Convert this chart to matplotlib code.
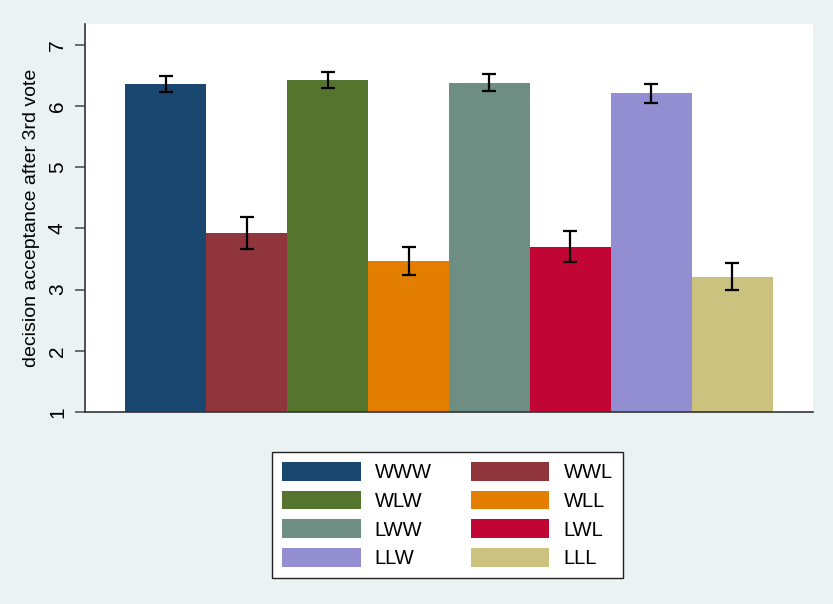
import matplotlib
matplotlib.use("Agg")
import matplotlib.pyplot as plt
from matplotlib.patches import Patch

plt.rcParams["font.family"] = ["Liberation Sans", "DejaVu Sans"]

# groups and values
groups = ["WWW", "WWL", "WLW", "WLL", "LWW", "LWL", "LLW", "LLL"]
means = [6.36, 3.93, 6.43, 3.47, 6.38, 3.70, 6.21, 3.21]
errors = [0.136, 0.26, 0.13, 0.23, 0.14, 0.25, 0.155, 0.22]
colors = ["#1a476f", "#90353b", "#55752f", "#e37e00",
          "#6e8e84", "#c10534", "#938dd2", "#cac27e"]

bg = "#eaf2f3"

fig = plt.figure(figsize=(8.33, 6.04), dpi=100, facecolor=bg)
ax = fig.add_axes([0.102, 0.318, 0.874, 0.642])
ax.set_facecolor("white")

x = list(range(len(groups)))
ax.bar(x, [m - 1 for m in means], bottom=1, width=1.0, color=colors,
       linewidth=0)
ax.errorbar(x, means, yerr=errors, fmt="none", ecolor="black",
            elinewidth=1.6, capsize=5, capthick=1.6)

ax.set_xlim(-1.0, 8.0)
ax.set_ylim(1, 7.34)
ax.set_yticks([1, 2, 3, 4, 5, 6, 7])
ax.set_xticks([])
ax.tick_params(axis="y", direction="out", length=7, width=1.2,
               color="#555555", labelsize=15, labelrotation=90, pad=6)
for lbl in ax.get_yticklabels():
    lbl.set_va("center")
ax.set_ylabel("decision acceptance after 3rd vote", fontsize=14, labelpad=6)

for s in ["top", "right"]:
    ax.spines[s].set_visible(False)
for s in ["left", "bottom"]:
    ax.spines[s].set_color("#333333")
    ax.spines[s].set_linewidth(1.2)

# legend in stata order: two columns, row-wise
handles = [Patch(facecolor=c, edgecolor="none") for c in colors]
order = [0, 2, 4, 6, 1, 3, 5, 7]
leg = fig.legend([handles[i] for i in order], [groups[i] for i in order],
                 ncol=2, loc="center", bbox_to_anchor=(0.537, 0.147),
                 fontsize=14.5, frameon=True, fancybox=False, framealpha=1,
                 handlelength=3.9, handleheight=1.05, handletextpad=0.7,
                 columnspacing=1.95, labelspacing=0.42, borderpad=0.5)
leg.get_frame().set_edgecolor("#222222")
leg.get_frame().set_facecolor("white")
leg.get_frame().set_linewidth(1.0)

fig.savefig("out.png", dpi=100, facecolor=bg)
